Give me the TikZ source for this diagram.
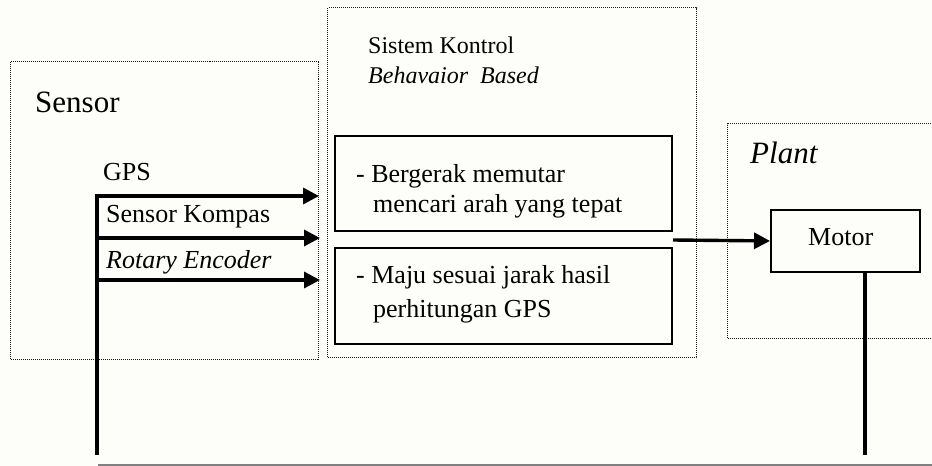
\documentclass[tikz,border=0pt]{standalone}
\usepackage{fontspec}
\setmainfont{Liberation Serif}
\usetikzlibrary{arrows.meta}
\definecolor{paper}{RGB}{253,253,249}
\begin{document}
\begin{tikzpicture}[x=1pt,y=-1pt,
  frame/.style={draw=black!90, densely dotted, line width=1pt, rectangle,
    inner sep=0pt, anchor=north west},
  block/.style={draw, line width=1.9pt, rectangle, inner sep=0pt, anchor=north west},
  txt/.style={anchor=base west, inner sep=0pt, font=\fontsize{26}{31}\selectfont},
  txtsmall/.style={anchor=base west, inner sep=0pt, font=\fontsize{24}{29}\selectfont},
  txtbig/.style={anchor=base west, inner sep=0pt, font=\fontsize{31}{37}\selectfont},
  signal/.style={line width=3.4pt, -{Triangle[length=16pt,width=16pt]}},
  wire/.style={line width=3.4pt},
]
% page area
\clip (0,0) rectangle (932,466);
\fill[paper] (0,0) rectangle (932,466);

% dotted group frames
\node[frame, minimum width=308, minimum height=298] (sensorframe) at (10,61) {};
\node[frame, minimum width=369, minimum height=350] (ctrlframe) at (327,7) {};
\node[frame, minimum width=230, minimum height=215] (plantframe) at (727,123) {};

% group titles
\node[txtbig] (sensortitle) at (35,112) {Sensor};
\node[txtsmall] (ctrltitle) at (368,53) {Sistem Kontrol};
\node[txtsmall] (ctrlsub) at (368,83) {\itshape Behavaior\ \ Based};
\node[txtbig] (planttitle) at (750,163) {\itshape Plant};

% behaviour blocks
\node[block, minimum width=337, minimum height=95] (beh1) at (334,135) {};
\node[block, minimum width=337, minimum height=96] (beh2) at (334,247) {};
\node[txt] (beh1a) at (356,182) {- Bergerak memutar};
\node[txt] (beh1b) at (373,212) {mencari arah yang tepat};
\node[txt] (beh2a) at (356,283) {- Maju sesuai jarak hasil};
\node[txt] (beh2b) at (373,317) {perhitungan GPS};

% plant block
\node[block, minimum width=149, minimum height=62] (motor) at (770,209) {};
\node[txt] (motorlabel) at (808,245) {Motor};

% sensor labels
\node[txt] (gps) at (103,180) {GPS};
\node[txt] (kompas) at (106,222) {Sensor Kompas};
\node[txt] (encoder) at (106,268) {\itshape Rotary Encoder};

% sensor bus and inputs
\coordinate (busbottom) at (97,455);
\coordinate (busgps) at (97,196);
\coordinate (buskompas) at (97,238);
\coordinate (busenc) at (97,280);
\coordinate (ingps) at (319,196);
\coordinate (inkompas) at (320,238);
\coordinate (inenc) at (320,280);
\draw[wire] (busbottom) -- (busgps);
\draw[signal] ([xshift=-1.7pt]busgps) -- (ingps);
\draw[signal] (buskompas) -- (inkompas);
\draw[signal] (busenc) -- (inenc);

% control output to motor
\coordinate (ctrlout) at (673,240);
\draw[signal] (ctrlout) -- (motor.west);

% motor feedback line
\coordinate (fbbottom) at (865,455);
\draw[wire] (fbbottom |- motor.south) -- (fbbottom);

% bottom rule
\coordinate (rulestart) at (98,465);
\coordinate (ruleend) at (932,465);
\draw[gray, line width=1.5pt] (rulestart) -- (ruleend);
\end{tikzpicture}
\end{document}
